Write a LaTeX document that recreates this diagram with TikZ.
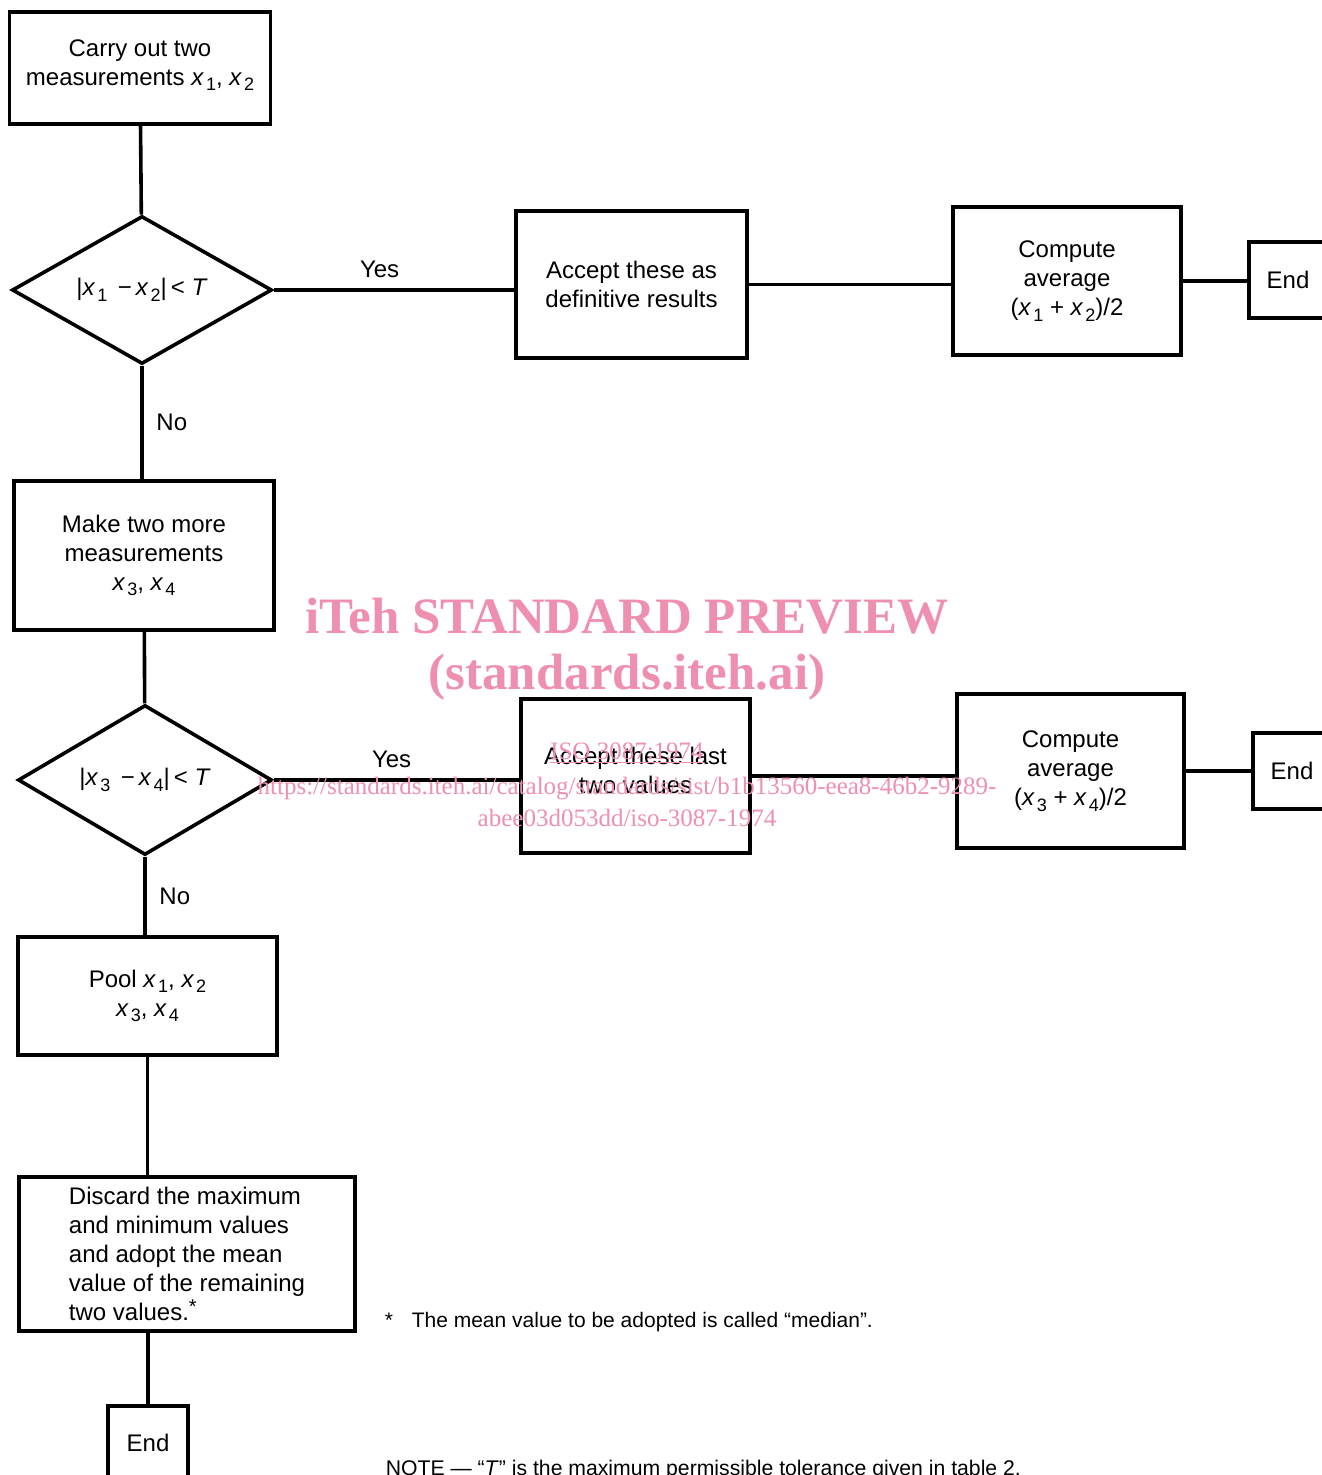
\documentclass[tikz,border=0pt]{standalone}
\usepackage{fontspec}
\setmainfont{Liberation Sans}
\newfontfamily\wmfont{Liberation Serif}
\usepackage{xcolor}
\definecolor{isopink}{HTML}{EE8FAE}
\usetikzlibrary{positioning, shapes.geometric}
% italic x with a lowered index
\newcommand{\xv}[1]{\textit{x}\kern1pt\raisebox{-0.45ex}{\fontsize{9}{9}\selectfont #1}}
% lift a block of lines inside its box
\newcommand{\liftlines}[2]{\raisebox{#1}[\height][\depth]{\begin{tabular}{@{}c@{}}#2\end{tabular}}}

\begin{document}
\begin{tikzpicture}[x=0.5pt, y=-0.5pt, line width=1.8pt,
    every node/.style={font=\fontsize{12}{14.5}\selectfont},
    procbox/.style={draw, rectangle, align=center, inner sep=0pt},
    testbox/.style={draw, diamond, aspect=1.75, inner sep=0pt},
    endbox/.style={draw, rectangle, minimum width=39pt, minimum height=38pt},
    wmark/.style={text=isopink, align=center, inner sep=0pt}]
  \useasboundingbox (0,0) rectangle (1321,1475);

  % First pair of measurements
  \node[procbox, minimum width=130.5pt, minimum height=56pt] (carry) at (140,68)
    {\liftlines{1.5pt}{Carry out two\\measurements \xv{1}, \xv{2}}};
  \node[testbox, minimum width=130pt, minimum height=74pt] (test1) at (142,290)
    {|\xv{1} \,−\,\xv{2}|\,< \textit{T}};
  \node[procbox, minimum width=115.5pt, minimum height=73.5pt] (accept1) at (631.5,284.5)
    {Accept these as\\definitive results};
  \node[procbox, minimum width=114pt, minimum height=74pt] (avg1) at (1067,281)
    {Compute\\average\\(\xv{1} + \xv{2})/2};
  \node[endbox] (end1) at (1288,280) {End};

  % Second pair of measurements
  \node[procbox, minimum width=130pt, minimum height=74.5pt] (more) at (144,555.5)
    {Make two more\\measurements\\\xv{3}, \xv{4}};
  \node[testbox, minimum width=127pt, minimum height=75pt] (test2) at (145,780)
    {|\xv{3} \,−\,\xv{4}|\,< \textit{T}};
  \node[procbox, minimum width=114.5pt, minimum height=77pt] (accept2) at (635.5,776)
    {\liftlines{1.5pt}{Accept these last\\two values}};
  \node[procbox, minimum width=113.5pt, minimum height=77pt] (avg2) at (1070.5,771)
    {Compute\\average\\(\xv{3} + \xv{4})/2};
  \node[endbox] (end2) at (1292,771) {End};

  % Pool all four
  \node[procbox, minimum width=129.5pt, minimum height=59pt] (pool) at (147.5,996)
    {Pool \xv{1}, \xv{2}\\\xv{3}, \xv{4}};
  \node[procbox, align=left, minimum width=168pt, minimum height=77pt] (discard) at (187,1254)
    {Discard the maximum\\and minimum values\\and adopt the mean\\value of the remaining\\two values.\raisebox{0.55ex}{\fontsize{10}{10}\selectfont *}};
  \node[endbox, minimum width=40pt, minimum height=37pt] (end3) at (148,1443) {End};

  % Connectors
  \draw (carry) -- (test1);
  \draw (test1.east) -- (test1.east -| accept1.west)
    node[pos=0.44, above=2pt] {Yes};
  \draw (accept1.east) -- (accept1.east -| avg1.west);
  \draw (avg1.east) -- (avg1.east -| end1.west);
  \draw (test1.south) -- (test1.south |- more.north)
    node[midway, right=3pt] {No};
  \draw (more) -- (test2);
  \draw (test2.east) -- (test2.east -| accept2.west)
    node[pos=0.48, above=2pt] {Yes};
  \draw (accept2.east) -- (accept2.east -| avg2.west);
  \draw (avg2.east) -- (avg2.east -| end2.west);
  \draw (test2.south) -- (test2.south |- pool.north)
    node[midway, right=3pt] {No};
  \draw (pool.south) -- (pool.south |- discard.north);
  \draw (discard.south -| end3.north) -- (end3.north);

  % Notes
  \node[anchor=base west, inner sep=0pt, font=\fontsize{10.5}{12}\selectfont] (median) at (383,1327)
    {\makebox[13.5pt][l]{*}The mean value to be adopted is called ``median''.};
  \node[anchor=base west, inner sep=0pt, font=\fontsize{10.6}{12}\selectfont] (tolnote) at (384,1475)
    {NOTE --- ``\textit{T}'' is the maximum permissible tolerance given in table 2.};

  % Watermark
  \node[wmark, font=\wmfont\bfseries\fontsize{25.5}{30}\selectfont] (wmtitle) at (627,616)
    {iTeh STANDARD PREVIEW};
  \node[wmark, font=\wmfont\bfseries\fontsize{25.5}{30}\selectfont] (wmsite) at (627,677)
    {(standards.iteh.ai)};
  \node[wmark, font=\wmfont\fontsize{12.5}{16}\selectfont] (wmiso) at (627,753)
    {\underline{ISO 3087:1974}};
  \node[wmark, font=\wmfont\fontsize{12.5}{16}\selectfont] (wmurl) at (627,802)
    {https://standards.iteh.ai/catalog/standards/sist/b1b13560-eea8-46b2-9289-\\abee03d053dd/iso-3087-1974};
\end{tikzpicture}
\end{document}
